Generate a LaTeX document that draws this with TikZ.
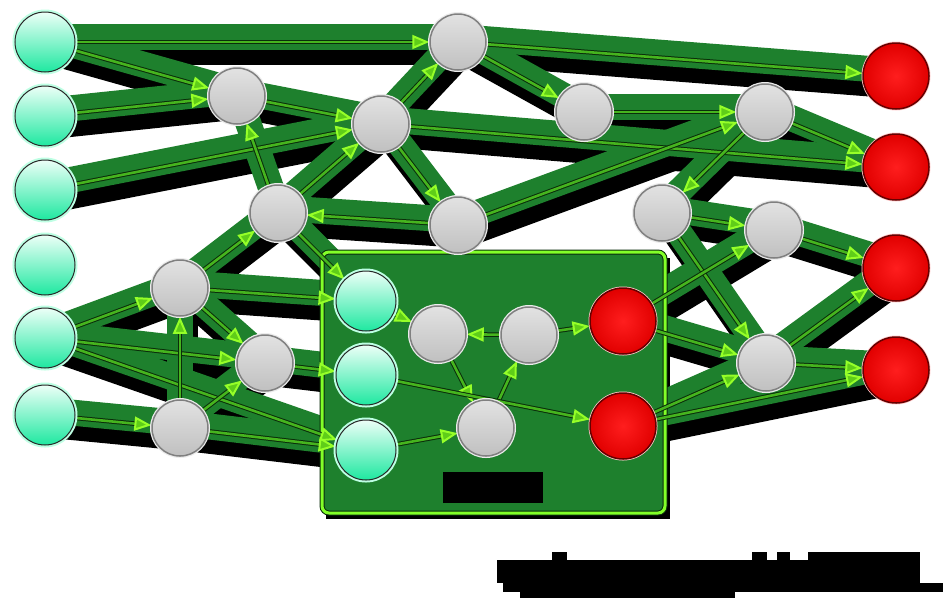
\documentclass[tikz,border=0pt]{standalone}
\usetikzlibrary{arrows.meta,calc}
\definecolor{field}{RGB}{30,128,45}
\definecolor{edgec}{RGB}{70,180,30}
\definecolor{edgedark}{RGB}{10,45,10}
\definecolor{tipc}{RGB}{150,255,40}
\definecolor{tipin}{RGB}{95,205,25}
\definecolor{mintT}{RGB}{236,255,247}
\definecolor{mintB}{RGB}{30,232,160}
\definecolor{mintglow}{RGB}{190,255,228}
\definecolor{grayT}{RGB}{226,226,226}
\definecolor{grayB}{RGB}{192,192,192}
\definecolor{redI}{RGB}{255,30,30}
\definecolor{redO}{RGB}{225,0,0}
\definecolor{boxline}{RGB}{130,255,40}
\pgfdeclarelayer{halo}
\pgfdeclarelayer{edges}
\pgfsetlayers{halo,edges,main}
\tikzset{
  innode/.style={circle, minimum size=60, inner sep=0, top color=mintT, bottom color=mintB, draw=black!85, line width=1,
     preaction={draw=mintglow, line width=5}},
  hidnode/.style={circle, minimum size=56, inner sep=0, top color=grayT, bottom color=grayB, draw=black!50, line width=1.5,
     preaction={draw=white!85!gray, line width=4}},
  outnode/.style={circle, minimum size=66, inner sep=0, shading=radial, inner color=redI, outer color=redO, draw=red!40!black, line width=1.5,
     preaction={draw=white!80!red, line width=3}},
  shadowline/.style={line width=24, draw=black, line cap=round},
  haloline/.style={line width=26, draw=field, line cap=round},
  edgeunder/.style={line width=4.6, draw=edgedark, shorten >=15},
  edgeover/.style={line width=2.6, draw=edgec, -{Triangle[length=17,width=14,fill=tipin,color=tipc,line width=2]}},
  groupbox/.style={rounded corners=7, line width=3, draw=boxline},
  blob/.style={fill=black, draw=none}
}
\begin{document}
\begin{tikzpicture}[x=1pt,y=-1pt]
\useasboundingbox (0,0) rectangle (949,606);
% nodes
\node[innode] (G1) at (45,42) {};
\node[innode] (G2) at (45,116) {};
\node[innode] (G3) at (45,190) {};
\node[innode] (G4) at (45,265) {};
\node[innode] (G5) at (45,338) {};
\node[innode] (G6) at (45,415) {};
\node[hidnode] (A) at (458,42) {};
\node[hidnode] (B) at (237,96) {};
\node[hidnode] (C) at (381,124) {};
\node[hidnode] (D) at (278,213) {};
\node[hidnode] (E) at (458,225) {};
\node[hidnode] (F) at (180,288) {};
\node[hidnode] (H) at (265,363) {};
\node[hidnode] (I) at (180,428) {};
\node[hidnode] (J) at (584,112) {};
\node[hidnode] (K) at (765,112) {};
\node[hidnode] (L) at (662,213) {};
\node[hidnode] (M) at (774,230) {};
\node[hidnode] (N) at (766,363) {};
\node[hidnode] (P) at (438,334) {};
\node[hidnode] (Q) at (529,335) {};
\node[hidnode] (R) at (486,428) {};
\node[innode] (GB1) at (366,301) {};
\node[innode] (GB2) at (366,375) {};
\node[innode] (GB3) at (366,450) {};
\node[outnode] (R1) at (623,321) {};
\node[outnode] (R2) at (623,426) {};
\node[outnode] (O1) at (896,76) {};
\node[outnode] (O2) at (896,167) {};
\node[outnode] (O3) at (896,268) {};
\node[outnode] (O4) at (896,370) {};
\begin{pgfonlayer}{halo}
  \fill[white] (0,0) rectangle (949,606);
  \foreach \a/\b in {G1/A,G1/B,G2/B,G3/C,G5/F,G5/H,G5/GB3,G6/I,B/C,D/B,D/C,D/GB1,F/D,E/D,C/A,C/E,C/O2,A/O1,A/J,J/K,E/K,K/O2,K/L,L/M,L/N,M/O3,R1/M,R1/N,R2/N,R2/O4,N/O3,N/O4,GB1/P,Q/P,P/R,R/Q,Q/R1,GB3/R,GB2/R2,F/GB1,H/GB2,I/F,I/H,I/GB3,F/H}
    {\draw[shadowline] ($(\a)+(6,11)$) -- ($(\b)+(6,11)$);}
  \fill[black] (326,258) rectangle (670,519);
  \fill[field] (322,252) rectangle (665,513);
  \foreach \a/\b in {G1/A,G1/B,G2/B,G3/C,G5/F,G5/H,G5/GB3,G6/I,B/C,D/B,D/C,D/GB1,F/D,E/D,C/A,C/E,C/O2,A/O1,A/J,J/K,E/K,K/O2,K/L,L/M,L/N,M/O3,R1/M,R1/N,R2/N,R2/O4,N/O3,N/O4,GB1/P,Q/P,P/R,R/Q,Q/R1,GB3/R,GB2/R2,F/GB1,H/GB2,I/F,I/H,I/GB3,F/H}
    {\draw[haloline] ($(\a)+(0,-5)$) -- ($(\b)+(0,-5)$);}
  \fill[blob] (443,472) rectangle (543,503);
  \draw[line width=5, draw=edgedark, rounded corners=7] (322,252) rectangle (665,513);
  \draw[groupbox] (322,252) rectangle (665,513);
\end{pgfonlayer}
\begin{pgfonlayer}{edges}
  \foreach \a/\b in {G1/A,G1/B,G2/B,G3/C,G5/F,G5/H,G5/GB3,G6/I,B/C,D/B,D/C,D/GB1,F/D,E/D,C/A,C/E,C/O2,A/O1,A/J,J/K,E/K,K/O2,K/L,L/M,L/N,M/O3,R1/M,R1/N,R2/N,R2/O4,N/O3,N/O4,GB1/P,Q/P,P/R,R/Q,Q/R1,GB3/R,GB2/R2,F/GB1,H/GB2,I/F,I/H,I/GB3,F/H}
    {\draw[edgeunder] (\a) -- (\b); \draw[edgeover] (\a) -- (\b);}
\end{pgfonlayer}
% blacked-out caption shape
\fill[blob] (497,560) rectangle (920,583);
\fill[blob] (503,583) rectangle (943,592);
\fill[blob] (520,592) rectangle (735,598);
\fill[blob] (552,552) rectangle (567,560);
\fill[blob] (752,552) rectangle (767,560);
\fill[blob] (777,552) rectangle (790,560);
\fill[blob] (808,552) rectangle (920,560);
\end{tikzpicture}
\end{document}
